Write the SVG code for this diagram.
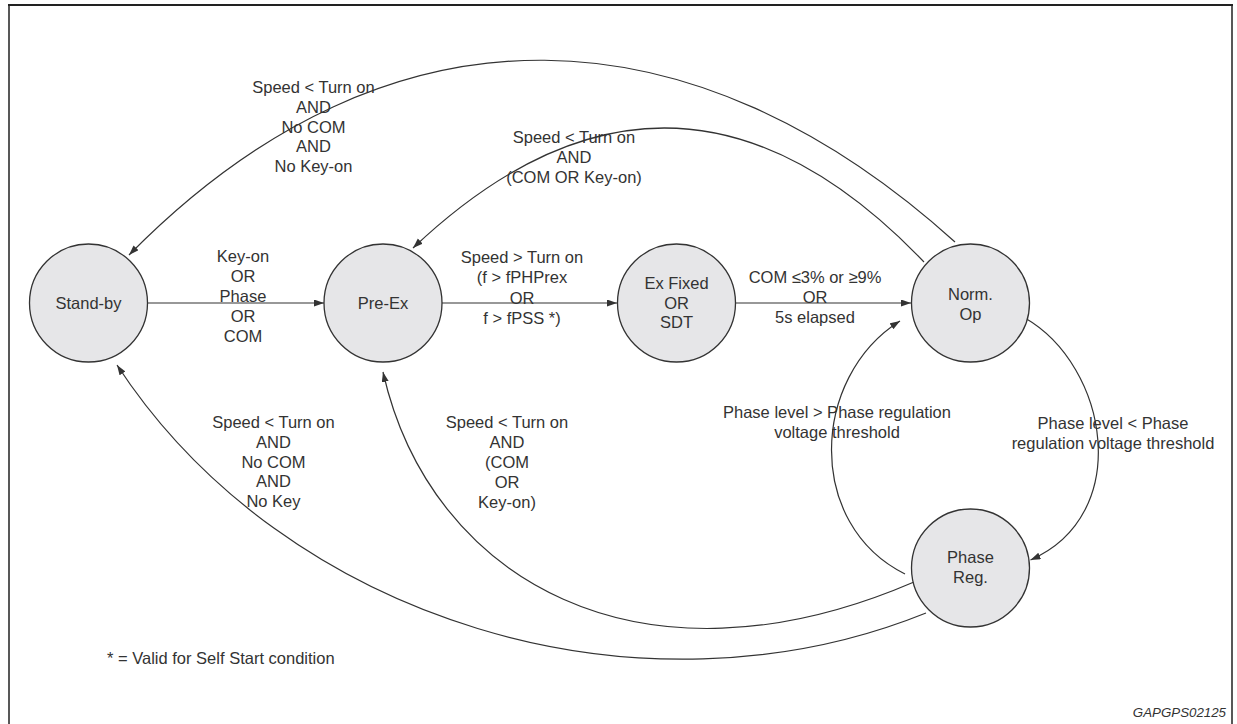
<svg xmlns="http://www.w3.org/2000/svg" width="1237" height="724" viewBox="0 0 1237 724">
<style>
.lbl{font-family:"Liberation Sans",Arial,sans-serif;font-size:16.5px;fill:#333;text-anchor:middle}
.node circle{fill:#e6e6e8;stroke:#333;stroke-width:1.3}
.edge{fill:none;stroke:#333;stroke-width:1.2;marker-end:url(#arr)}
.frame{fill:none;stroke:#222}
</style>
<defs>
<marker id="arr" markerUnits="userSpaceOnUse" markerWidth="11" markerHeight="8" refX="10" refY="3.5" orient="auto">
<path d="M0,0 L10,3.5 L0,7 z" fill="#333"/>
</marker>
</defs>
<rect width="1237" height="724" fill="#fff"/>
<path class="frame" d="M9,726 V5 M1232,5 V726" stroke-width="1.5"/>
<path class="frame" d="M8,5 H1233" stroke-width="2.2"/>

<g id="connectors">
<path class="edge" d="M955,242 C697,9 394,-14 129,255"/>
<path class="edge" d="M924,262 C736.6,66.4 564.4,104.9 413,248"/>
<path class="edge" d="M148,303 H324"/>
<path class="edge" d="M442,303 H617"/>
<path class="edge" d="M736,303 H911"/>
<path class="edge" d="M905,574 C805.4,524.6 810.3,377.4 900,321"/>
<path class="edge" d="M1025,318 C1108.4,366 1134,514.7 1030.5,560"/>
<path class="edge" d="M914,582 C640,700 430,580 383,372"/>
<path class="edge" d="M926,613 C641,728 285,622 117,365"/>
</g>

<g id="labels">
<text class="lbl" x="313.5" y="93">Speed &lt; Turn on<tspan x="313.5" dy="19.75">AND</tspan><tspan x="313.5" dy="19.75">No COM</tspan><tspan x="313.5" dy="19.75">AND</tspan><tspan x="313.5" dy="19.75">No Key-on</tspan></text>
<text class="lbl" x="574" y="143">Speed &lt; Turn on<tspan x="574" dy="20">AND</tspan><tspan x="574" dy="20">(COM OR Key-on)</tspan></text>
<text class="lbl" x="243" y="262">Key-on<tspan x="243" dy="20">OR</tspan><tspan x="243" dy="20">Phase</tspan><tspan x="243" dy="20">OR</tspan><tspan x="243" dy="20">COM</tspan></text>
<text class="lbl" x="522" y="263">Speed &gt; Turn on<tspan x="522" dy="20.3">(f &gt; fPHPrex</tspan><tspan x="522" dy="20.3">OR</tspan><tspan x="522" dy="20.3">f &gt; fPSS *)</tspan></text>
<text class="lbl" x="815" y="283">COM ≤3% or ≥9%<tspan x="815" dy="20">OR</tspan><tspan x="815" dy="20">5s elapsed</tspan></text>
<text class="lbl" x="837" y="418">Phase level &gt; Phase regulation<tspan x="837" dy="19.5">voltage threshold</tspan></text>
<text class="lbl" x="1113" y="429">Phase level &lt; Phase<tspan x="1113" dy="19.5">regulation voltage threshold</tspan></text>
<text class="lbl" x="273.5" y="428">Speed &lt; Turn on<tspan x="273.5" dy="19.8">AND</tspan><tspan x="273.5" dy="19.8">No COM</tspan><tspan x="273.5" dy="19.8">AND</tspan><tspan x="273.5" dy="19.8">No Key</tspan></text>
<text class="lbl" x="507" y="428">Speed &lt; Turn on<tspan x="507" dy="20">AND</tspan><tspan x="507" dy="20">(COM</tspan><tspan x="507" dy="20">OR</tspan><tspan x="507" dy="20">Key-on)</tspan></text>
<text class="lbl" x="107" y="664" style="text-anchor:start">* = Valid for Self Start condition</text>
<text x="1226" y="717" style="font-family:'Liberation Sans',Arial,sans-serif;font-size:13.3px;font-style:italic;fill:#333;text-anchor:end">GAPGPS02125</text>
</g>

<g id="standby" class="node"><circle cx="88.5" cy="303" r="59"/><text class="lbl" x="88.5" y="309">Stand-by</text></g>
<g id="preex" class="node"><circle cx="383" cy="303" r="59"/><text class="lbl" x="383" y="309">Pre-Ex</text></g>
<g id="exfixed" class="node"><circle cx="676.5" cy="303" r="59"/><text class="lbl" x="676.5" y="289">Ex Fixed<tspan x="676.5" dy="19.5">OR</tspan><tspan x="676.5" dy="19.5">SDT</tspan></text></g>
<g id="normop" class="node"><circle cx="970.5" cy="303" r="59"/><text class="lbl" x="970.5" y="300">Norm.<tspan x="970.5" dy="19.5">Op</tspan></text></g>
<g id="phasereg" class="node"><circle cx="970.5" cy="568" r="59"/><text class="lbl" x="970.5" y="563">Phase<tspan x="970.5" dy="19.5">Reg.</tspan></text></g>
</svg>
